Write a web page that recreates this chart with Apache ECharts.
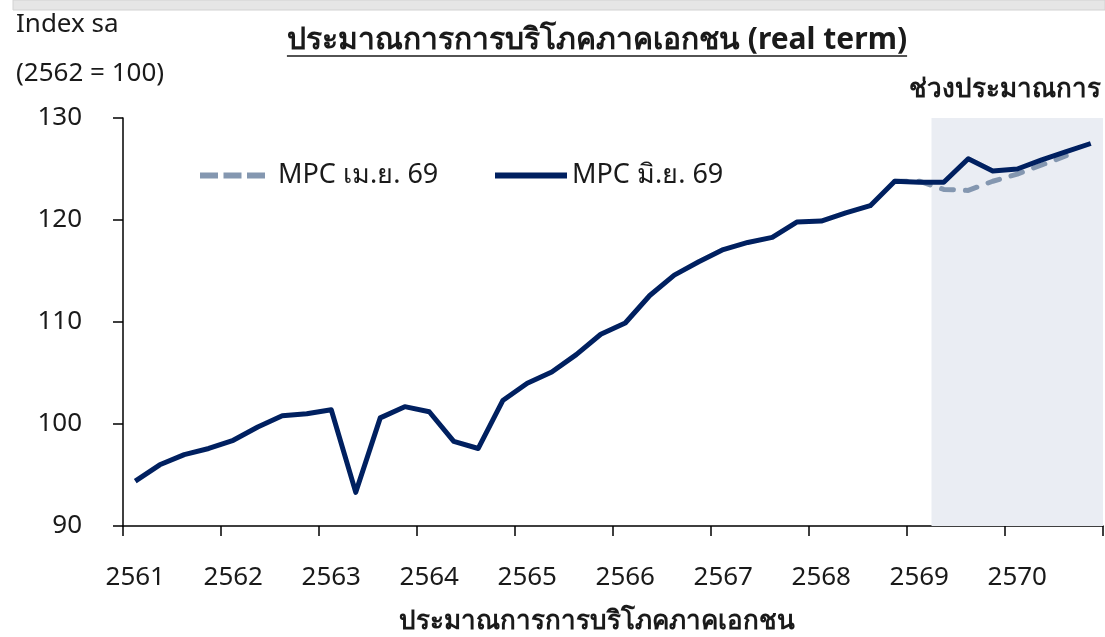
<!DOCTYPE html>
<html>
<head>
<meta charset="utf-8">
<script src="https://cdn.jsdelivr.net/npm/echarts@6/dist/echarts.min.js"></script>
<style>
  html, body { margin: 0; padding: 0; background: #fff; }
  #chart { width: 1105px; height: 637px; }
</style>
</head>
<body>
<div id="chart"></div>
<script>
const years = ['2561', '2562', '2563', '2564', '2565', '2566', '2567', '2568', '2569', '2570'];
const quarters = ['Q1', 'Q2', 'Q3', 'Q4'];

// MPC มิ.ย. 69 (actual + forecast)
const mpcJun = [
  94.4, 96.0, 97.0, 97.6, 98.4, 99.7, 100.8, 101.0, 101.4, 93.3,
  100.6, 101.7, 101.2, 98.3, 97.6, 102.3, 104.0, 105.1, 106.8, 108.8,
  109.9, 112.6, 114.6, 115.9, 117.1, 117.8, 118.3, 119.8, 119.9, 120.7,
  121.4, 123.8, 123.7, 123.7, 126.0, 124.8, 125.0, 125.9, 126.7, 127.5
];

// MPC เม.ย. 69 (forecast only)
const mpcApr = [
  null, null, null, null, null, null, null, null, null, null,
  null, null, null, null, null, null, null, null, null, null,
  null, null, null, null, null, null, null, null, null, null,
  null, 123.8, 123.8, 123.0, 122.9, 123.8, 124.5, 125.4, 126.3, null
];

const yTicks = { min: 90, max: 130, step: 10 };
const forecastStart = 33; // first forecast quarter index (2569 Q2)

const categories = [];
years.forEach(y => quarters.forEach(q => categories.push(y + q)));

const font = "'Noto Sans', sans-serif";
const txt = '#1a1a1a';
const titleText = 'ประมาณการการบริโภคภาคเอกชน (real term)';
const titleFont = 'bold 30px ' + font;
const titleCx = 597;

// width of the title, for the underline
const ctx = document.createElement('canvas').getContext('2d');
ctx.font = titleFont;
const titleW = ctx.measureText(titleText).width;

const chart = echarts.init(document.getElementById('chart'));

chart.setOption({
  backgroundColor: '#ffffff',
  animation: false,
  legend: [{
    left: 200,
    top: 162,
    padding: 0,
    itemWidth: 65,
    itemHeight: 6,
    icon: 'path://M0,0h18v6h-18z M23.5,0h18v6h-18z M47,0h18v6h-18z',
    textStyle: { fontFamily: font, fontSize: 27, color: txt, padding: [0, 0, 0, 8] },
    data: ['MPC เม.ย. 69']
  }, {
    left: 495,
    top: 162,
    padding: 0,
    itemWidth: 72,
    itemHeight: 6,
    icon: 'path://M0,0h72v6h-72z',
    textStyle: { fontFamily: font, fontSize: 27, color: txt, padding: [0, 0, 0, 0] },
    data: ['MPC มิ.ย. 69']
  }],
  grid: { left: 123, right: 2, top: 118, bottom: 111, outerBoundsMode: 'none' },
  xAxis: [{
    type: 'category',
    data: categories,
    boundaryGap: true,
    axisLine: { lineStyle: { color: '#000', width: 1.5 } },
    axisTick: { show: true, interval: 3, length: 10, lineStyle: { color: '#000', width: 1.5 } },
    axisLabel: {
      interval: 3,
      margin: 39,
      fontFamily: font,
      fontSize: 26,
      color: txt,
      formatter: v => v.slice(0, 4)
    }
  }, {
    type: 'value',
    show: false,
    min: 0,
    max: categories.length
  }],
  yAxis: {
    type: 'value',
    min: yTicks.min,
    max: yTicks.max,
    interval: yTicks.step,
    splitLine: { show: false },
    axisLine: { show: true, lineStyle: { color: '#000', width: 1.5 } },
    axisTick: { show: true, length: 10, lineStyle: { color: '#000', width: 1.5 } },
    axisLabel: { margin: 41, fontFamily: font, fontSize: 26, color: txt }
  },
  graphic: [
    { type: 'rect', shape: { x: 13, y: 0, width: 1092, height: 10 },
      style: { fill: '#e6e6e6', stroke: '#d2d2d2', lineWidth: 1 }, silent: true },
    { type: 'text', x: 16, y: 25,
      style: { text: 'Index sa', font: '26px ' + font, fill: txt, verticalAlign: 'middle' } },
    { type: 'text', x: 16, y: 74,
      style: { text: '(2562 = 100)', font: '26px ' + font, fill: txt, verticalAlign: 'middle' } },
    { type: 'text', x: 1101, y: 90,
      style: { text: 'ช่วงประมาณการ', font: 'bold 26px ' + font, fill: txt,
               align: 'right', verticalAlign: 'middle' } },
    { type: 'text', x: titleCx, y: 40,
      style: { text: titleText, font: titleFont, fill: txt, align: 'center', verticalAlign: 'middle' } },
    { type: 'line', shape: { x1: titleCx - titleW / 2, y1: 56, x2: titleCx + titleW / 2, y2: 56 },
      style: { stroke: txt, lineWidth: 1.5 }, silent: true },
    { type: 'text', x: 597, y: 622,
      style: { text: 'ประมาณการการบริโภคภาคเอกชน', font: 'bold 26px ' + font, fill: txt,
               align: 'center', verticalAlign: 'middle' } }
  ],
  series: [{
    name: 'shade',
    type: 'line',
    xAxisIndex: 1,
    data: [],
    z: 1,
    silent: true,
    markArea: {
      silent: true,
      itemStyle: { color: '#eaedf3' },
      data: [[{ xAxis: forecastStart }, { xAxis: categories.length }]]
    }
  }, {
    name: 'MPC เม.ย. 69',
    type: 'line',
    data: mpcApr,
    symbol: 'none',
    z: 3,
    lineStyle: { color: '#8497b0', width: 5, type: [12, 12], cap: 'round' },
    itemStyle: { color: '#8497b0' }
  }, {
    name: 'MPC มิ.ย. 69',
    type: 'line',
    data: mpcJun,
    symbol: 'none',
    z: 4,
    lineStyle: { color: '#002060', width: 5, join: 'round' },
    itemStyle: { color: '#002060' }
  }]
});
</script>
</body>
</html>
